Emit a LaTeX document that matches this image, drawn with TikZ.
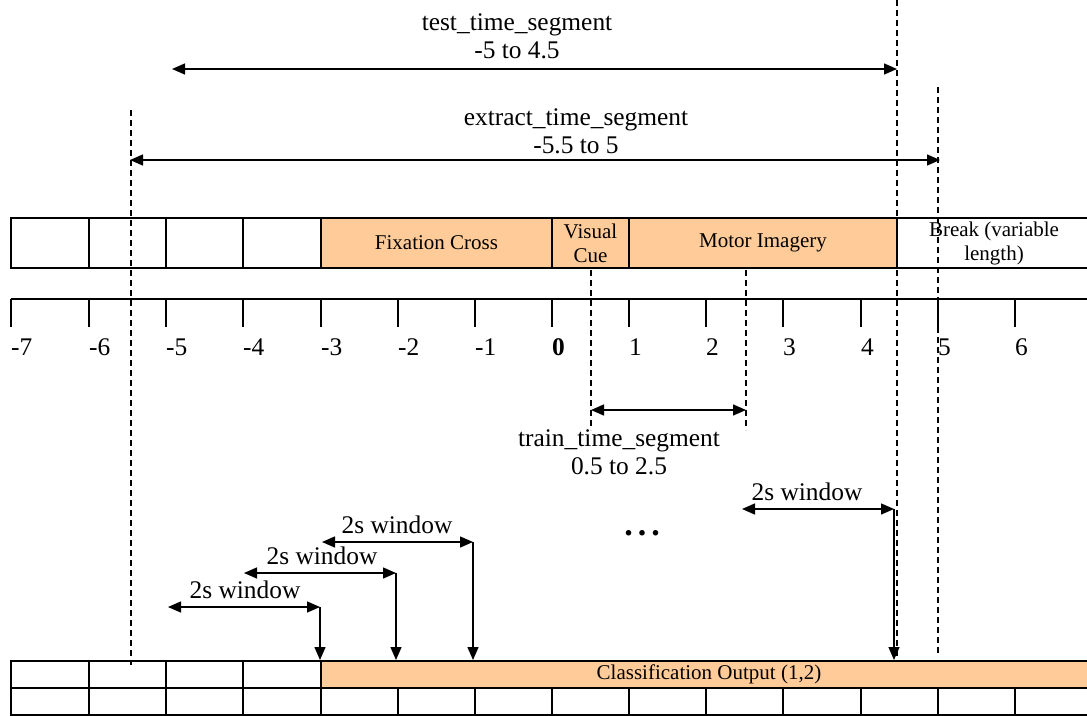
\documentclass[tikz,border=0pt]{standalone}
\usepackage{fontspec}
\setmainfont{Liberation Serif}
\usetikzlibrary{arrows.meta}
\definecolor{phase}{RGB}{255,204,153}
\newcommand\bigtxt{\fontsize{25.4}{28}\selectfont}
\newcommand\celltxt{\fontsize{21}{24}\selectfont}
\begin{document}
\begin{tikzpicture}[x=1pt,y=-1pt,
  rule/.style={line width=1.2pt},
  cell/.style={draw, line width=1.2pt, anchor=north west, inner sep=0pt,
    outer sep=0pt, minimum height=#1, align=center, font=\celltxt},
  filled/.style={fill=phase},
  guide/.style={line width=1.1pt, dash pattern=on 6pt off 4pt},
  span/.style={line width=1.4pt, {Triangle[length=13pt,width=11pt]}-{Triangle[length=13pt,width=11pt]}},
  drop/.style={line width=1.4pt, -{Triangle[length=13pt,width=11pt]}},
  lbl/.style={font=\bigtxt, align=center, inner sep=0pt}]
\useasboundingbox (0,0) rectangle (1087,715);

% ---- trial phases
\node[cell=50pt, minimum width=78pt] (p1) at (11,218) {};
\node[cell=50pt, minimum width=77pt] (p2) at (89,218) {};
\node[cell=50pt, minimum width=77pt] (p3) at (166,218) {};
\node[cell=50pt, minimum width=78pt] (p4) at (243,218) {};
\node[cell=50pt, filled, minimum width=231pt] (fix) at (321,218) {Fixation Cross};
\node[cell=50pt, filled, minimum width=77pt] (cue) at (552,218) {Visual\\Cue};
\node[cell=50pt, filled, minimum width=268pt] (mi) at (629,218) {Motor Imagery};
\node[cell=50pt, minimum width=194pt] (brk) at (897,218) {Break (variable\\length)};

% ---- time axis
\coordinate (ax0) at (11,299);
\coordinate (ax1) at (1090,299);
\draw[rule] (ax0) -- (ax1);
\foreach \x/\l in {11/-7, 89/-6, 166/-5, 243/-4, 321/-3, 398/-2, 475/-1,
                   552/\textbf{0}, 629/1, 706/2, 783/3, 861/4, 938/5, 1015/6} {
  \draw[rule] (\x,299) -- (\x,327);
  \node[anchor=west, font=\bigtxt, inner sep=0pt] (n\x) at (\x,347) {\l};
}

% ---- output grid
\node[cell=27pt, minimum width=78pt] (o1) at (11,661) {};
\node[cell=27pt, minimum width=77pt] (o2) at (89,661) {};
\node[cell=27pt, minimum width=77pt] (o3) at (166,661) {};
\node[cell=27pt, minimum width=78pt] (o4) at (243,661) {};
\node[cell=27pt, filled, minimum width=776pt] (out) at (321,661) {Classification Output (1,2)};
\foreach \a/\b [count=\i] in {11/89, 89/166, 166/243, 243/321, 321/398, 398/475,
                   475/552, 552/629, 629/706, 706/783, 783/861, 861/938,
                   938/1015, 1015/1092} {
  \node[cell=27pt, minimum width=\b pt-\a pt] (g\i) at (\a,688) {};
}

% ---- segment boundaries
\coordinate (e0a) at (131,110);  \coordinate (e0b) at (131,665);
\coordinate (t1a) at (897,0);    \coordinate (t1b) at (897,657);
\coordinate (e1a) at (938,87);   \coordinate (e1b) at (938,655);
\coordinate (r0a) at (591,270);  \coordinate (r0b) at (591,430);
\coordinate (r1a) at (746,270);  \coordinate (r1b) at (746,430);
\draw[guide] (e0a) -- (e0b);
\draw[guide] (t1a) -- (t1b);
\draw[guide] (e1a) -- (e1b);
\draw[guide] (r0a) -- (r0b);
\draw[guide] (r1a) -- (r1b);

% ---- segment spans
\coordinate (tsL) at (172,69);  \coordinate (tsR) at (897,69);
\draw[span] (tsL) -- (tsR);
\node[lbl] (tsT) at (517,36) {test\_time\_segment\\-5 to 4.5};

\coordinate (esL) at (130,160); \coordinate (esR) at (940,160);
\draw[span] (esL) -- (esR);
\node[lbl] (esT) at (576,131) {extract\_time\_segment\\-5.5 to 5};

\coordinate (rsL) at (591,410); \coordinate (rsR) at (746,410);
\draw[span] (rsL) -- (rsR);
\node[lbl] (rsT) at (619,452) {train\_time\_segment\\0.5 to 2.5};

% ---- sliding windows
\foreach \i/\l/\r/\y/\c in {1/168/320/607/245, 2/244/396/573/322,
                            3/322/473/542/397, 4/742/894/509/807} {
  \coordinate (w\i L) at (\l,\y);
  \coordinate (w\i R) at (\r,\y);
  \coordinate (w\i D) at (\r,660);
  \draw[span] (w\i L) -- (w\i R);
  \draw[drop] (w\i R) -- (w\i D);
  \node[lbl] (w\i T) at (\c,\y-17) {2s window};
}
\node[anchor=base, inner sep=0pt, font=\fontsize{34}{36}\selectfont] (dots) at (642,535)
  {\textbf{.\kern5pt.\kern5pt.}};
\end{tikzpicture}
\end{document}
